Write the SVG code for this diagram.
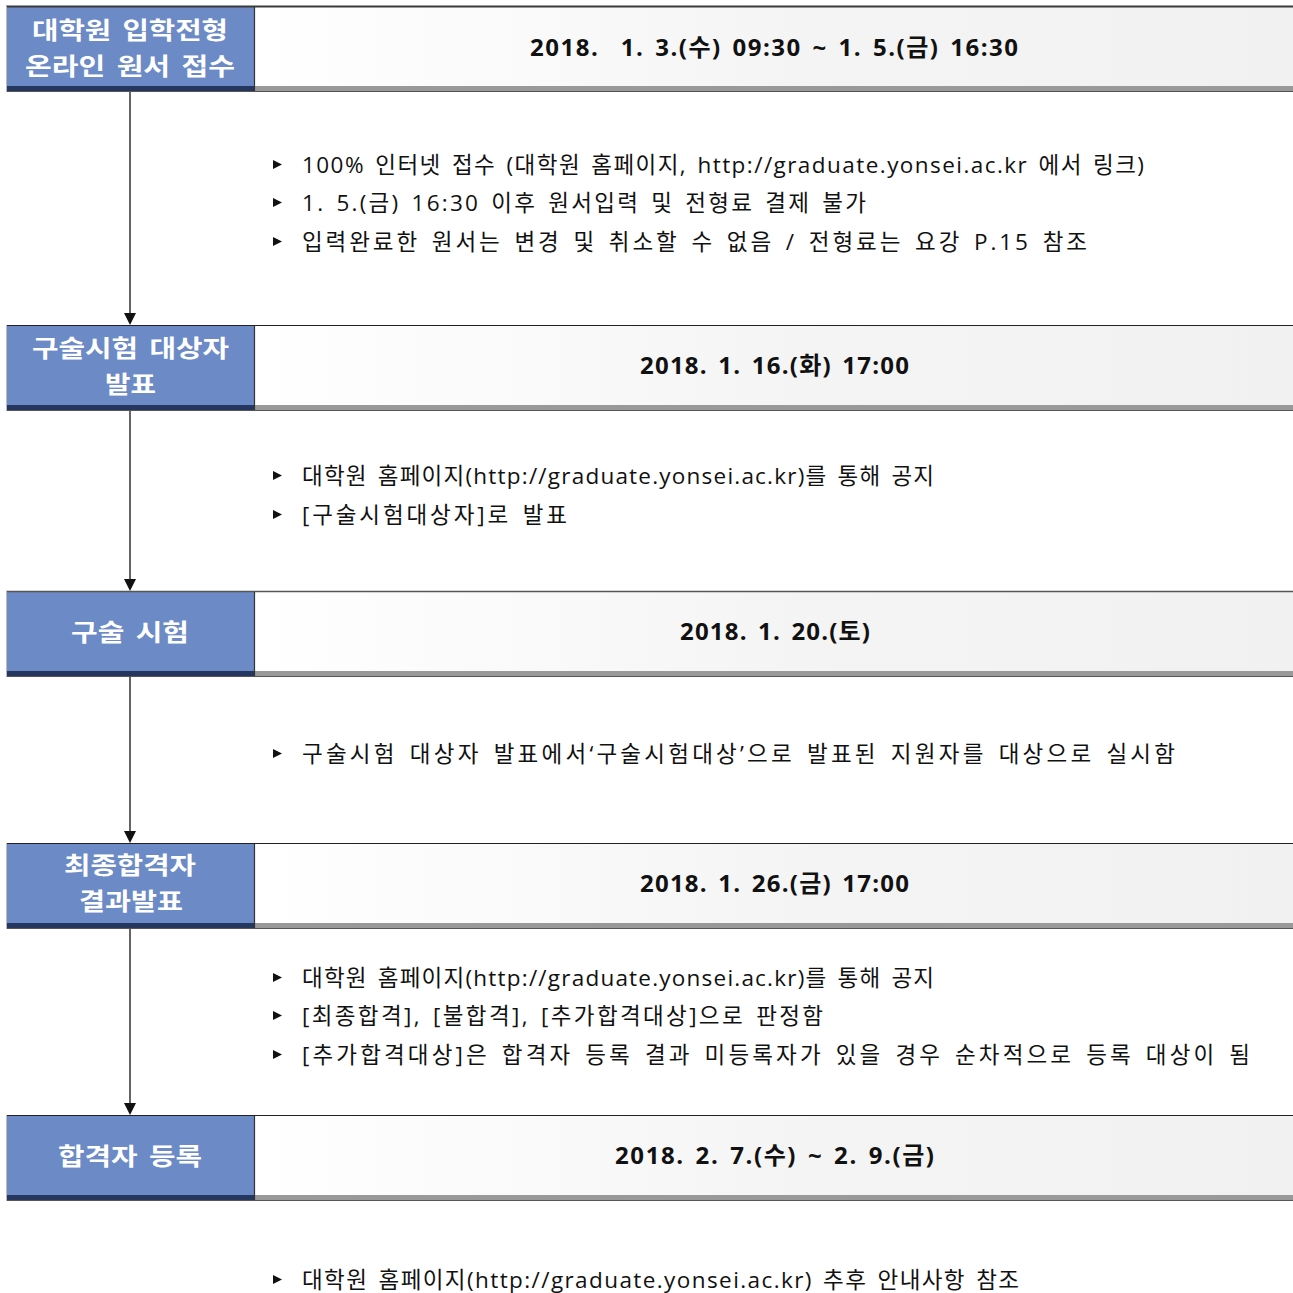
<svg xmlns="http://www.w3.org/2000/svg" width="1293" height="1293" viewBox="0 0 1293 1293">
<style>
.lbox{fill:#6b8ac6}
.lstrip{fill:#25375e}
.rbox{fill:url(#rg)}
.rstrip{fill:#999999}
.div{stroke:#333;stroke-width:1.2}
.lab{font-family:"Noto Sans CJK KR","Malgun Gothic",sans-serif;font-weight:bold;font-size:24px;fill:#ffffff;word-spacing:4px}
.date{font-family:"Open Sans","Noto Sans CJK KR",sans-serif;font-weight:bold;font-size:24px;fill:#111111;word-spacing:3px}
.bul{font-family:"Open Sans","Noto Sans CJK KR",sans-serif;font-size:22.5px;fill:#111111;word-spacing:3px}
.tri{fill:#111}
.conn{stroke:#111;stroke-width:1.3;fill:none}
</style>
<defs>
<linearGradient id="rg" x1="0" y1="0" x2="1" y2="0">
<stop offset="0" stop-color="#ffffff"/>
<stop offset="0.55" stop-color="#f4f4f4"/>
<stop offset="1" stop-color="#f1f1f1"/>
</linearGradient>
<symbol id="bt" viewBox="0 0 10 10"><path d="M0,0 L10,5 L0,10 Z"/></symbol>
</defs>
<rect width="1293" height="1293" fill="#ffffff"/>

<g id="connectors">
<line class="conn" x1="130" y1="91" x2="130" y2="315"/>
<path d="M124,313 L136,313 L130,325 Z" fill="#111"/>
<line class="conn" x1="130" y1="410" x2="130" y2="581"/>
<path d="M124,579 L136,579 L130,591 Z" fill="#111"/>
<line class="conn" x1="130" y1="676" x2="130" y2="833"/>
<path d="M124,831 L136,831 L130,843 Z" fill="#111"/>
<line class="conn" x1="130" y1="928" x2="130" y2="1105"/>
<path d="M124,1103 L136,1103 L130,1115 Z" fill="#111"/>
</g>

<g id="step1">
<rect class="lbox" x="7" y="7" width="247" height="79"/>
<rect class="lstrip" x="7" y="86" width="247" height="5"/>
<rect class="rbox" x="254" y="7" width="1039" height="79"/>
<rect class="rstrip" x="254" y="86" width="1039" height="5"/>
<line x1="6" y1="6.5" x2="1293" y2="6.5" stroke="#3a3a3a" stroke-width="2"/>
<line x1="6" y1="91.5" x2="1293" y2="91.5" stroke="#555" stroke-width="1"/>
<line x1="6.5" y1="6" x2="6.5" y2="92" stroke="#bbb" stroke-width="1"/>
<line class="div" x1="254.5" y1="7" x2="254.5" y2="91"/>
<text class="lab" x="32" y="39" textLength="196" lengthAdjust="spacingAndGlyphs">대학원 입학전형</text>
<text class="lab" x="25" y="75" textLength="210" lengthAdjust="spacingAndGlyphs">온라인 원서 접수</text>
<text class="date" x="530" y="56" textLength="488" lengthAdjust="spacing" xml:space="preserve">2018.  1. 3.(수) 09:30 ~ 1. 5.(금) 16:30</text>
</g>
<g id="notes1">
<use href="#bt" x="273" y="160" width="9" height="9" class="tri"/>
<text class="bul" x="302" y="173" textLength="842" lengthAdjust="spacing">100% 인터넷 접수 (대학원 홈페이지, http://graduate.yonsei.ac.kr 에서 링크)</text>
<use href="#bt" x="273" y="198" width="9" height="9" class="tri"/>
<text class="bul" x="302" y="211" textLength="564" lengthAdjust="spacing">1. 5.(금) 16:30 이후 원서입력 및 전형료 결제 불가</text>
<use href="#bt" x="273" y="237" width="9" height="9" class="tri"/>
<text class="bul" x="302" y="250" textLength="785" lengthAdjust="spacing">입력완료한 원서는 변경 및 취소할 수 없음 / 전형료는 요강 P.15 참조</text>
</g>

<g id="step2">
<rect class="lbox" x="7" y="326" width="247" height="79"/>
<rect class="lstrip" x="7" y="405" width="247" height="5"/>
<rect class="rbox" x="254" y="326" width="1039" height="79"/>
<rect class="rstrip" x="254" y="405" width="1039" height="5"/>
<line x1="6" y1="325.5" x2="1293" y2="325.5" stroke="#222" stroke-width="1.2"/>
<line x1="6" y1="410.5" x2="1293" y2="410.5" stroke="#555" stroke-width="1"/>
<line x1="6.5" y1="325" x2="6.5" y2="411" stroke="#bbb" stroke-width="1"/>
<line class="div" x1="254.5" y1="326" x2="254.5" y2="410"/>
<text class="lab" x="32" y="357" textLength="197" lengthAdjust="spacingAndGlyphs">구술시험 대상자</text>
<text class="lab" x="105" y="393" textLength="51" lengthAdjust="spacingAndGlyphs">발표</text>
<text class="date" x="640" y="374" textLength="269" lengthAdjust="spacing">2018. 1. 16.(화) 17:00</text>
</g>
<g id="notes2">
<use href="#bt" x="273" y="471" width="9" height="9" class="tri"/>
<text class="bul" x="302" y="484" textLength="632" lengthAdjust="spacing">대학원 홈페이지(http://graduate.yonsei.ac.kr)를 통해 공지</text>
<use href="#bt" x="273" y="510" width="9" height="9" class="tri"/>
<text class="bul" x="302" y="523" textLength="265" lengthAdjust="spacing">[구술시험대상자]로 발표</text>
</g>

<g id="step3">
<rect class="lbox" x="7" y="592" width="247" height="79"/>
<rect class="lstrip" x="7" y="671" width="247" height="5"/>
<rect class="rbox" x="254" y="592" width="1039" height="79"/>
<rect class="rstrip" x="254" y="671" width="1039" height="5"/>
<line x1="6" y1="591.5" x2="1293" y2="591.5" stroke="#555" stroke-width="1.5"/>
<line x1="6" y1="676.5" x2="1293" y2="676.5" stroke="#555" stroke-width="1"/>
<line x1="6.5" y1="591" x2="6.5" y2="677" stroke="#bbb" stroke-width="1"/>
<line class="div" x1="254.5" y1="592" x2="254.5" y2="676"/>
<text class="lab" x="71" y="641" textLength="118" lengthAdjust="spacingAndGlyphs">구술 시험</text>
<text class="date" x="680" y="640" textLength="190" lengthAdjust="spacing">2018. 1. 20.(토)</text>
</g>
<g id="notes3">
<use href="#bt" x="273" y="749" width="9" height="9" class="tri"/>
<text class="bul" x="302" y="762" textLength="873" lengthAdjust="spacing">구술시험 대상자 발표에서‘구술시험대상’으로 발표된 지원자를 대상으로 실시함</text>
</g>

<g id="step4">
<rect class="lbox" x="7" y="844" width="247" height="79"/>
<rect class="lstrip" x="7" y="923" width="247" height="5"/>
<rect class="rbox" x="254" y="844" width="1039" height="79"/>
<rect class="rstrip" x="254" y="923" width="1039" height="5"/>
<line x1="6" y1="843.5" x2="1293" y2="843.5" stroke="#222" stroke-width="1.2"/>
<line x1="6" y1="928.5" x2="1293" y2="928.5" stroke="#555" stroke-width="1"/>
<line x1="6.5" y1="843" x2="6.5" y2="929" stroke="#bbb" stroke-width="1"/>
<line class="div" x1="254.5" y1="844" x2="254.5" y2="928"/>
<text class="lab" x="64" y="874" textLength="132" lengthAdjust="spacingAndGlyphs">최종합격자</text>
<text class="lab" x="79" y="910" textLength="104" lengthAdjust="spacingAndGlyphs">결과발표</text>
<text class="date" x="640" y="892" textLength="269" lengthAdjust="spacing">2018. 1. 26.(금) 17:00</text>
</g>
<g id="notes4">
<use href="#bt" x="273" y="973" width="9" height="9" class="tri"/>
<text class="bul" x="302" y="986" textLength="632" lengthAdjust="spacing">대학원 홈페이지(http://graduate.yonsei.ac.kr)를 통해 공지</text>
<use href="#bt" x="273" y="1011" width="9" height="9" class="tri"/>
<text class="bul" x="302" y="1024" textLength="521" lengthAdjust="spacing">[최종합격], [불합격], [추가합격대상]으로 판정함</text>
<use href="#bt" x="273" y="1050" width="9" height="9" class="tri"/>
<text class="bul" x="302" y="1063" textLength="948" lengthAdjust="spacing">[추가합격대상]은 합격자 등록 결과 미등록자가 있을 경우 순차적으로 등록 대상이 됨</text>
</g>

<g id="step5">
<rect class="lbox" x="7" y="1116" width="247" height="79"/>
<rect class="lstrip" x="7" y="1195" width="247" height="5"/>
<rect class="rbox" x="254" y="1116" width="1039" height="79"/>
<rect class="rstrip" x="254" y="1195" width="1039" height="5"/>
<line x1="6" y1="1115.5" x2="1293" y2="1115.5" stroke="#222" stroke-width="1.2"/>
<line x1="6" y1="1200.5" x2="1293" y2="1200.5" stroke="#555" stroke-width="1"/>
<line x1="6.5" y1="1115" x2="6.5" y2="1201" stroke="#bbb" stroke-width="1"/>
<line class="div" x1="254.5" y1="1116" x2="254.5" y2="1200"/>
<text class="lab" x="58" y="1165" textLength="144" lengthAdjust="spacingAndGlyphs">합격자 등록</text>
<text class="date" x="615" y="1164" textLength="319" lengthAdjust="spacing">2018. 2. 7.(수) ~ 2. 9.(금)</text>
</g>
<g id="notes5">
<use href="#bt" x="273" y="1275" width="9" height="9" class="tri"/>
<text class="bul" x="302" y="1288" textLength="717" lengthAdjust="spacing">대학원 홈페이지(http://graduate.yonsei.ac.kr) 추후 안내사항 참조</text>
</g>
</svg>
